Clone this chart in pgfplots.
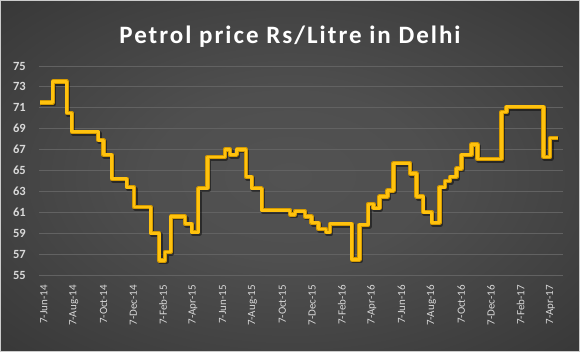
\documentclass[border=0pt]{standalone}
\usepackage{pgfplots}
\pgfplotsset{compat=1.18}
\usepackage{fontspec}
\setmainfont{Carlito}
\newfontfamily\titlefont[LetterSpace=8]{Carlito}
\definecolor{bgin}{HTML}{525252}
\definecolor{bgout}{HTML}{2A2A2A}
\definecolor{gridc}{HTML}{626262}
\definecolor{tickc}{HTML}{D9D9D9}
\definecolor{lineout}{HTML}{D49A00}
\definecolor{linein}{HTML}{FFC20E}
\pgfdeclareradialshading{bgshade}{\pgfpoint{0bp}{0bp}}{color(0bp)=(bgin); color(12bp)=(bgin!92!bgout); color(50bp)=(bgout); color(80bp)=(bgout)}
\pgfplotstableread{
x y
-0.26 71.5
0.59 73.5
1.53 70.5
1.87 68.7
3.65 67.9
3.99 66.5
4.55 64.2
5.56 63.4
6.05 61.5
7.17 59.0
7.74 56.4
8.13 57.2
8.51 60.6
9.47 59.9
9.92 59.1
10.36 63.3
10.97 66.3
12.15 67.0
12.49 66.5
12.94 67.0
13.56 64.4
13.95 63.3
14.62 61.2
16.52 60.8
16.85 61.1
17.52 60.6
17.97 60.0
18.42 59.4
18.93 59.1
19.20 59.9
20.66 56.5
21.17 59.8
21.77 61.8
22.11 61.4
22.51 62.5
23.05 63.1
23.45 65.7
24.57 64.7
25.02 62.5
25.46 61.0
26.03 60.0
26.54 63.4
26.92 64.0
27.26 64.4
27.70 65.2
28.04 66.5
28.71 67.5
29.09 66.1
30.72 70.6
31.06 71.1
33.52 66.3
33.97 68.1
34.52 68.1
}\petrol
\begin{document}
\begin{tikzpicture}
\shade[shading=bgshade] (-39pt,-77pt) rectangle (541pt,275pt);
\draw[white!80!black, line width=0.8pt] (-38.6pt,-76.6pt) rectangle (540.6pt,274.6pt);
\begin{axis}[
  scale only axis,
  width=524pt, height=209pt,
  xmin=-0.33, xmax=34.84,
  ymin=55, ymax=75,
  xtick={0,2,...,34},
  xticklabels={7-Jun-14,7-Aug-14,7-Oct-14,7-Dec-14,7-Feb-15,7-Apr-15,7-Jun-15,7-Aug-15,7-Oct-15,7-Dec-15,7-Feb-16,7-Apr-16,7-Jun-16,7-Aug-16,7-Oct-16,7-Dec-16,7-Feb-17,7-Apr-17},
  ytick={55,57,...,75},
  ymajorgrids,
  grid style={gridc, line width=0.9pt},
  axis line style={draw=none},
  major tick length=0pt,
  tick label style={text=tickc},
  /pgf/number format/assume math mode=true,
  yticklabel style={inner sep=0pt, anchor=east, xshift=-13pt, font=\fontsize{12.5}{14}\selectfont\bfseries},
  xticklabel style={inner sep=0pt, rotate=90, anchor=east, font=\fontsize{11}{13}\selectfont},
  xticklabel shift=10pt,
  clip=false,
]
\addplot[black, opacity=0.45, line width=4.6pt, const plot mark left, xshift=1.2pt, yshift=-1.6pt, line join=round] table[x=x,y=y] {\petrol};
\addplot[lineout, line width=4.4pt, const plot mark left, line join=round] table[x=x,y=y] {\petrol};
\addplot[linein, line width=2.8pt, const plot mark left, line join=round] table[x=x,y=y] {\petrol};
\end{axis}
\node[anchor=base, text=white, inner sep=0pt, font=\titlefont\fontsize{25}{29}\selectfont\bfseries] at (251pt,231pt) {Petrol price Rs/Litre in Delhi};
\end{tikzpicture}
\end{document}
